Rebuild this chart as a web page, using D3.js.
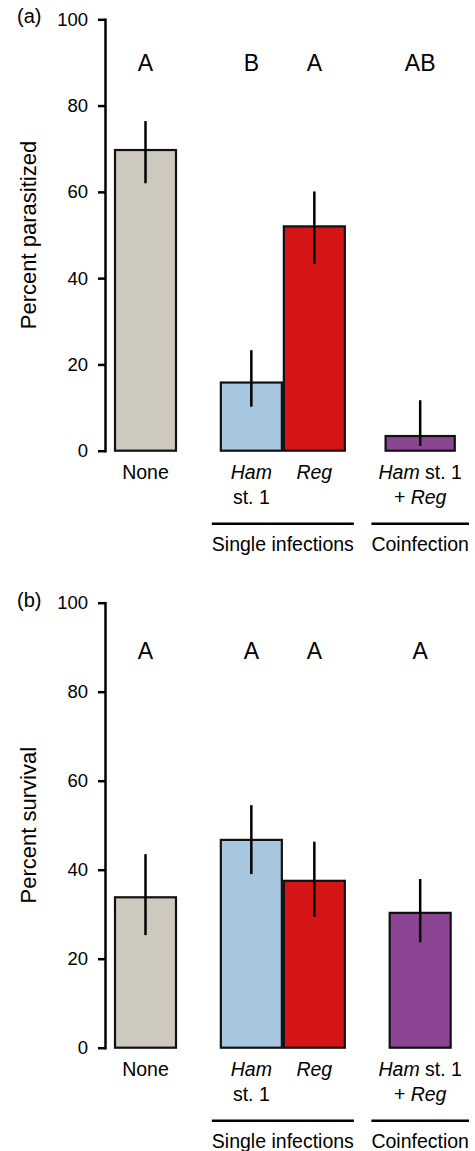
<!DOCTYPE html>
<html>
<head>
<meta charset="UTF-8">
<script src="https://cdn.jsdelivr.net/npm/d3@7"></script>
<style>
  body { margin: 0; background: #fff; }
  svg { display: block; font-family: "Liberation Sans", Arial, sans-serif; }
</style>
</head>
<body>
<svg id="chart" width="475" height="1151"></svg>
<script>
// data
const categories = ["None", "Ham st. 1", "Reg", "Ham st. 1 + Reg"];
const barColors = ["#cdc9bf", "#a6c7df", "#d51515", "#8b4592"];

const parasitized = [69.7, 15.8, 52.0, 3.4];
const parasitizedLo = [62.0, 10.2, 43.3, 1.1];
const parasitizedHi = [76.4, 23.3, 60.1, 11.7];
const parasitizedLetters = ["A", "B", "A", "AB"];

const survival = [33.8, 46.7, 37.5, 30.3];
const survivalLo = [25.3, 39.0, 29.4, 23.7];
const survivalHi = [43.5, 54.5, 46.3, 37.9];
const survivalLetters = ["A", "A", "A", "A"];

const yTicks = [0, 20, 40, 60, 80, 100];

// x-axis labels, one array of lines per category, segments [text, italic]
const catLabels = [
  [[["None", false]]],
  [[["Ham", true]], [["st. 1", false]]],
  [[["Reg", true]]],
  [[["Ham", true], [" st. 1", false]], [["+ ", false], ["Reg", true]]]
];
const groupNames = ["Single infections", "Coinfection"];
const groupMembers = [[1, 2], [3]];

// bar slots: groups separated by a gap (in bar widths)
const clusters = [[0], [1, 2], [3]];
const gap = 0.68;
const slots = [];
let pos = 0;
clusters.forEach((c, gi) => {
  if (gi > 0) pos += gap;
  c.forEach(i => { slots[i] = pos; pos += 1; });
});

const svg = d3.select("#chart");
const x = d3.scaleLinear().domain([0, 1]).range([114, 177]);
const bw = x(1) - x(0);
const cx = i => x(slots[i] + 0.5);

function panel(opts) {
  const y = d3.scaleLinear().domain([0, 100]).range([opts.bottom, opts.top]);
  const g = svg.append("g");

  // panel tag
  g.append("text").attr("x", 17).attr("y", opts.top + 3.8)
    .attr("font-size", 20).text(opts.tag);

  // y axis
  const ax = g.append("g").attr("transform", "translate(105,0)")
    .call(d3.axisLeft(y).tickValues(yTicks).tickSize(7).tickSizeOuter(0).tickPadding(10));
  ax.select(".domain").attr("stroke-width", 2.5).attr("stroke-linecap", "square");
  ax.selectAll(".tick line").attr("stroke-width", 2.5);
  ax.selectAll(".tick text").attr("font-size", 18.5).attr("font-family", "Liberation Sans, Arial, sans-serif")
    .attr("fill", "#000");

  g.append("text")
    .attr("transform", `translate(36,${(opts.top + opts.bottom) / 2}) rotate(-90)`)
    .attr("text-anchor", "middle").attr("font-size", 22).text(opts.title);

  // bars
  categories.forEach((c, i) => {
    const w = bw * (opts.widths[i] || 1);
    g.append("rect")
      .attr("x", cx(i) - w / 2 + 1).attr("width", w - 2)
      .attr("y", y(opts.values[i])).attr("height", y(0) - y(opts.values[i]))
      .attr("fill", barColors[i]).attr("stroke", "#111").attr("stroke-width", 2.2);
  });
  categories.forEach((c, i) => {
    g.append("line")
      .attr("x1", cx(i)).attr("x2", cx(i))
      .attr("y1", y(opts.lo[i])).attr("y2", y(opts.hi[i]))
      .attr("stroke", "#000").attr("stroke-width", 2.5);
    g.append("text").attr("x", cx(i)).attr("y", opts.top + opts.letterDy)
      .attr("text-anchor", "middle").attr("font-size", 23).text(opts.letters[i]);
  });

  // category labels
  catLabels.forEach((lines, i) => {
    lines.forEach((segs, li) => {
      const t = g.append("text").attr("x", cx(i)).attr("y", y(0) + 28.5 + li * 25)
        .attr("text-anchor", "middle").attr("font-size", 19.5);
      segs.forEach(s => t.append("tspan").attr("font-style", s[1] ? "italic" : "normal").text(s[0]));
    });
  });

  // group labels with underline matching text width
  groupNames.forEach((name, k) => {
    const m = groupMembers[k];
    const mid = (cx(m[0]) + cx(m[m.length - 1])) / 2;
    const t = g.append("text").attr("x", mid).attr("y", y(0) + 100)
      .attr("text-anchor", "middle").attr("font-size", 19.5).text(name);
    const len = t.node().getComputedTextLength();
    g.append("line").attr("x1", mid - len / 2).attr("x2", mid + len / 2)
      .attr("y1", y(0) + 73).attr("y2", y(0) + 73)
      .attr("stroke", "#000").attr("stroke-width", 2.5);
  });
}

panel({
  tag: "(a)", title: "Percent parasitized", top: 19.3, bottom: 450.7, letterDy: 51.7,
  values: parasitized, lo: parasitizedLo, hi: parasitizedHi, letters: parasitizedLetters,
  widths: [1, 1, 1, 1.13]
});
panel({
  tag: "(b)", title: "Percent survival", top: 602.7, bottom: 1047.7, letterDy: 56,
  values: survival, lo: survivalLo, hi: survivalHi, letters: survivalLetters,
  widths: [1, 1, 1, 1]
});
</script>
</body>
</html>
